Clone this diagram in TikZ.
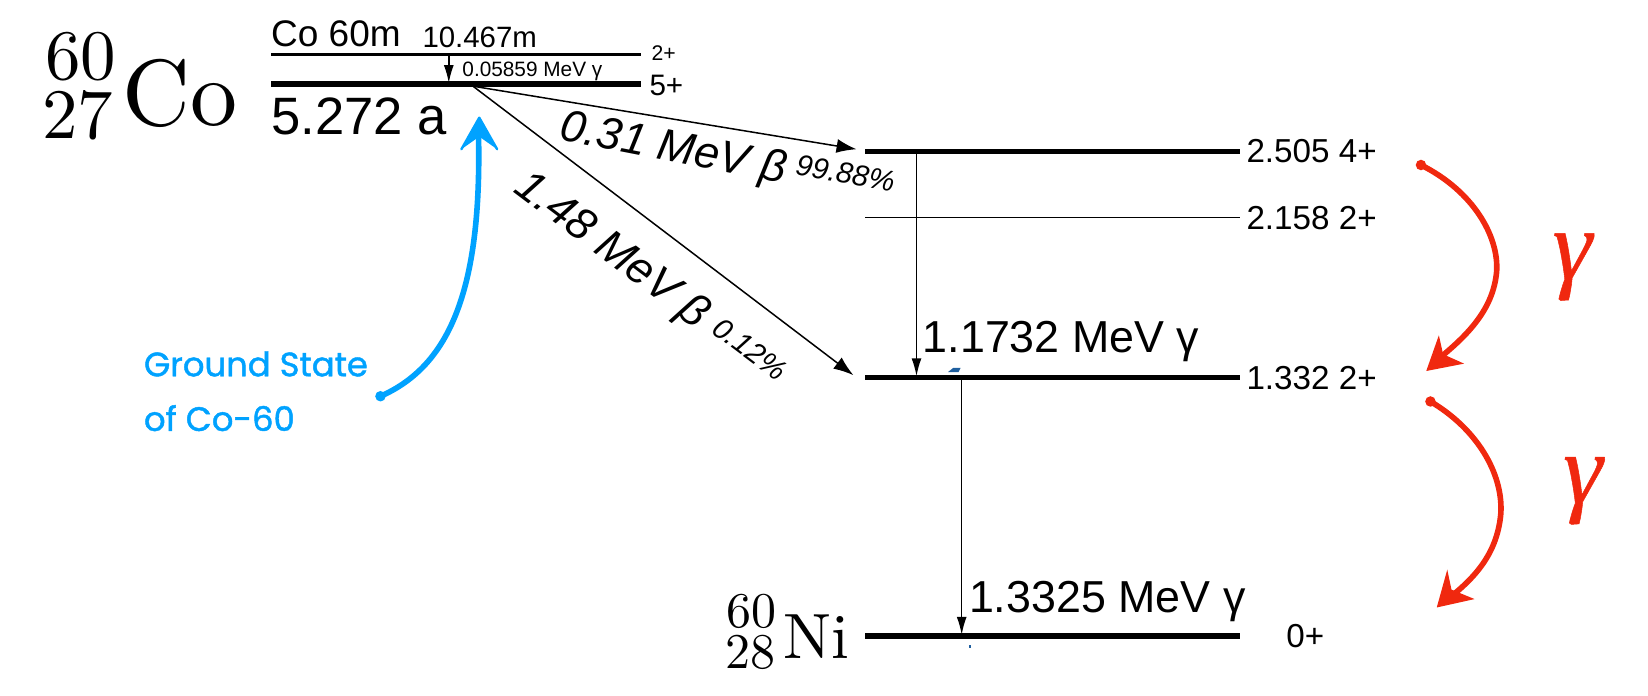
\documentclass[tikz,border=0pt]{standalone}
\usepackage{fontspec}
\setmainfont{Liberation Sans}
\newfontfamily\lmfont{Latin Modern Roman}
\newfontfamily\handfont[FakeBold=1.3]{Poppins}
\newfontfamily\gammafont[FakeBold=0.5]{Liberation Serif}
\usetikzlibrary{arrows.meta}
\definecolor{skyb}{HTML}{00A2FF}
\definecolor{redh}{HTML}{F0280F}
\definecolor{speck}{HTML}{1F5F9F}
\newcommand{\fz}[1]{\fontsize{#1pt}{#1pt}\selectfont}
\tikzset{
  x=0.5255pt,y=-0.5255pt,
  lbl/.style={anchor=base west,inner sep=0pt,outer sep=0pt},
  iso/.style={lbl,font=\lmfont\fz{10},scale=#1},
  thicklevel/.style={line width=2.7pt},
  thinlevel/.style={line width=1.3pt},
  hairlevel/.style={line width=0.9pt},
  trans/.style={line width=0.75pt,-{Latex[length=9pt,width=5pt]}},
  betatrans/.style={line width=0.75pt,-{Latex[length=10pt,width=7pt]}},
  bluepen/.style={draw=skyb,line width=2.8pt,line cap=round,line join=round},
  redpen/.style={draw=redh,line width=2.8pt,line cap=round,line join=round},
  redgamma/.style={anchor=center,inner sep=0pt,text=redh,font=\gammafont\itshape\fz{50}},
}
\begin{document}
\begin{tikzpicture}
\useasboundingbox (0,0) rectangle (1568,662.2);
% level end points
\coordinate (mL) at (258,52); \coordinate (mR) at (610,52);
\coordinate (gL) at (258,80); \coordinate (gR) at (610,80);
\coordinate (aL) at (823,144); \coordinate (aR) at (1180,144);
\coordinate (bL) at (823,207); \coordinate (bR) at (1180,207);
\coordinate (cL) at (823,359); \coordinate (cR) at (1180,359);
\coordinate (dL) at (823,605); \coordinate (dR) at (1180,605);
\draw[thinlevel] (mL) -- (mR);
\draw[thicklevel] (gL) -- (gR);
\draw[thicklevel] (aL) -- (aR);
\draw[hairlevel] (bL) -- (bR);
\draw[thicklevel] (cL) -- (cR);
\draw[thicklevel] (dL) -- (dR);
% connector ends
\coordinate (it1) at (427,52); \coordinate (it2) at (427,79);
\coordinate (bs) at (450,82);
\coordinate (b1) at (815,142); \coordinate (b2) at (812,357);
\coordinate (g1a) at (872,144); \coordinate (g1b) at (872,358);
\coordinate (g2a) at (915,359); \coordinate (g2b) at (915,604);
\draw[trans] (it1) -- (it2);
\draw[betatrans] (bs) -- (b1);
\draw[betatrans] (bs) -- (b2);
\draw[trans] (g1a) -- (g1b);
\draw[trans] (g2a) -- (g2b);
% isotope labels
\node[iso=3.55] (co60) at (43,76) {60};
\node[iso=3.55] (co27) at (40,132) {27};
\node[iso=4.7] (co) at (117,119) {Co};
\node[iso=2.5] (ni60) at (691,597) {60};
\node[iso=2.5] (ni28) at (690,636) {28};
\node[iso=3.2] (ni) at (745,627) {Ni};
% level labels
\node[lbl,font=\fz{18.5}] (t1) at (258,44) {Co 60m};
\node[lbl,font=\fz{14.7}] (t2) at (402,45) {10.467m};
\node[lbl,font=\fz{10.4}] (t3) at (440,73) {0.05859 MeV γ};
\node[lbl,font=\fz{26.3}] (t4) at (258,128) {5.272 a};
\node[lbl,font=\fz{10.6}] (t5) at (620,58) {2+};
\node[lbl,font=\fz{14.8}] (t6) at (618,91) {5+};
\node[lbl,font=\fz{16.6}] (t7) at (1186,155) {2.505 4+};
\node[lbl,font=\fz{16.6}] (t8) at (1186,218) {2.158 2+};
\node[lbl,font=\fz{16.6}] (t9) at (1186,371) {1.332 2+};
\node[lbl,font=\fz{16.6}] (t10) at (1224,616) {0+};
\node[lbl,font=\fz{22.4}] (t11) at (878,335) {1.1732 MeV γ};
\node[lbl,font=\fz{22.4}] (t12) at (922,583) {1.3325 MeV γ};
\node[lbl,font=\itshape\fz{22.4},rotate=-11] (t13) at (531,133) {0.31 MeV β};
\node[lbl,font=\itshape\fz{14.7},rotate=-10] (t14) at (756,166) {99.88\%};
\node[lbl,font=\itshape\fz{22.4},rotate=-37] (t15) at (488,182) {1.48 MeV β};
\node[lbl,font=\itshape\fz{14.7},rotate=-37] (t16) at (676,316) {0.12\%};
% blue annotation
\node[lbl,font=\handfont\fz{16.9},text=skyb] (t17) at (137,358) {Ground State};
\node[lbl,font=\handfont\fz{16.9},text=skyb] (t18) at (137,410) {of Co-60};
\coordinate (bstart) at (362,377);
\coordinate (btip) at (456,112);
\coordinate (bb1) at (439,142);
\coordinate (bb2) at (473,142);
\draw[bluepen] (bstart) .. controls (428,348) and (460,275) .. (455,118);
\fill[skyb] (bstart) circle (5);
\fill[skyb] (btip) -- (bb2) -- (456,130) -- (bb1) -- cycle;
\draw[bluepen,line width=1.2pt] (bb1) -- (btip) -- (bb2);
% red annotations
\coordinate (r1s) at (1352,157); \coordinate (r1t) at (1357,353);
\coordinate (r1a) at (1369,319); \coordinate (r1b) at (1393,346);
\draw[redpen] (r1s) .. controls (1402,182) and (1426,225) .. (1424,258)
  .. controls (1421,295) and (1395,320) .. (1368,342);
\fill[redh] (r1s) circle (5);
\fill[redh] (r1t) -- (r1a) -- (1373,337) -- (r1b) -- cycle;
\coordinate (r2s) at (1361,382); \coordinate (r2t) at (1367,578);
\coordinate (r2a) at (1377,542); \coordinate (r2b) at (1403,570);
\draw[redpen] (r2s) .. controls (1405,408) and (1430,450) .. (1428,488)
  .. controls (1425,525) and (1405,548) .. (1380,568);
\fill[redh] (r2s) circle (5);
\fill[redh] (r2t) -- (r2a) -- (1381,561) -- (r2b) -- cycle;
\node[redgamma] (g1) at (1496,254) {γ};
\node[redgamma] (g2) at (1506,467) {γ};
% small blue specks
\fill[speck] (902,354) -- (907,350) -- (914,350) -- (912,354) -- cycle;
\fill[speck] (922,614) rectangle (924,617);
\end{tikzpicture}
\end{document}
